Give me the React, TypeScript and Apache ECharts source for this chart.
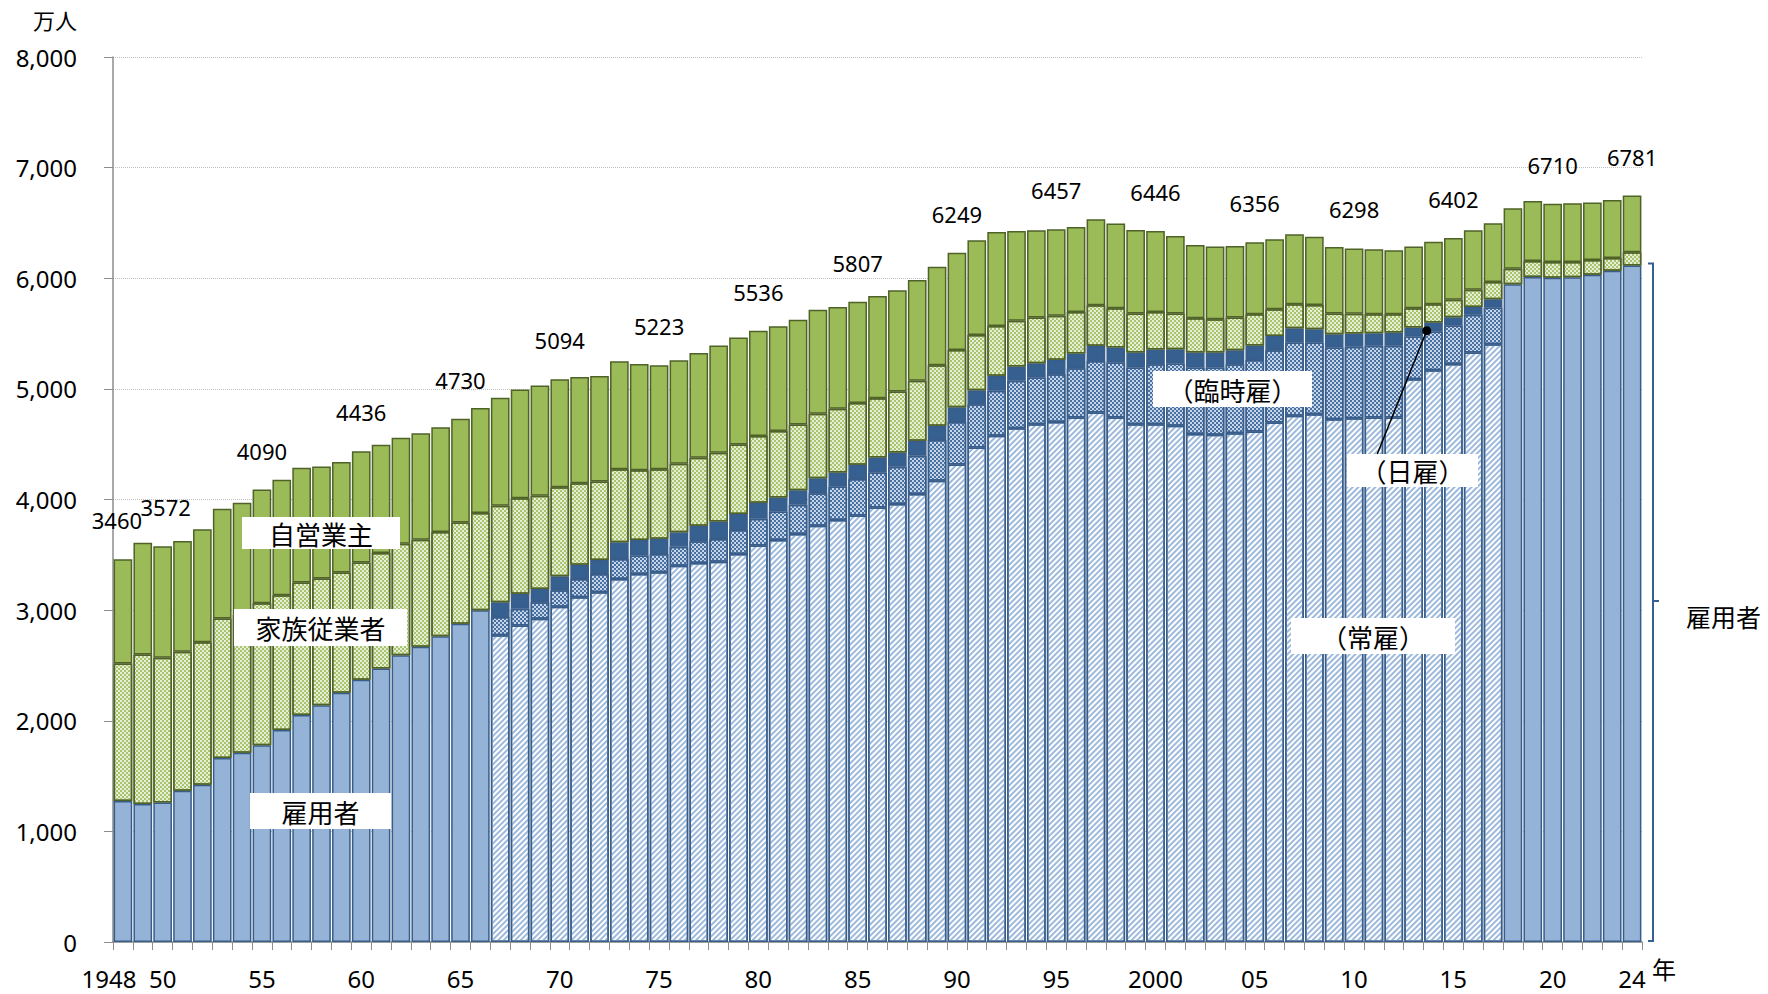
import React, { useEffect, useRef } from "react";
import * as echarts from "echarts";

// ---- categories ----
const years: string[] = Array.from({ length: 77 }, (_, i) => String(1948 + i));

const xTickLabels: Record<string, string> = {
  "1948": "1948", "1950": "50", "1955": "55", "1960": "60", "1965": "65",
  "1970": "70", "1975": "75", "1980": "80", "1985": "85", "1990": "90",
  "1995": "95", "2000": "2000", "2005": "05", "2010": "10", "2015": "15",
  "2020": "20", "2024": "24",
};

// ---- values (万人) ----
// 雇用者 (total, shown solid) 1948-1966
const employeesEarly = [
  1275, 1248, 1260, 1368, 1422, 1663, 1711, 1778, 1916, 2051,
  2141, 2253, 2370, 2472, 2593, 2668, 2764, 2876, 2999,
];
// 雇用者 2018-2024
const employeesLate = [5946, 6012, 6005, 6010, 6032, 6068, 6115];

// 常雇 1967-2017
const regular = [
  2772, 2862, 2922, 3030, 3117, 3162, 3282, 3327, 3342, 3402,
  3426, 3438, 3508, 3585, 3634, 3688, 3763, 3814, 3855, 3928,
  3959, 4049, 4169, 4316, 4470, 4576, 4645, 4681, 4700, 4741,
  4787, 4741, 4681, 4680, 4666, 4591, 4585, 4600, 4615, 4696,
  4756, 4771, 4726, 4735, 4741, 4741, 5088, 5169, 5225, 5329,
  5404,
];
// 臨時雇 1967-2017
const temporary = [
  165, 150, 150, 150, 165, 165, 180, 166, 166, 172,
  196, 205, 216, 240, 258, 264, 294, 303, 330, 317,
  337, 346, 368, 384, 392, 406, 428, 422, 432, 446,
  466, 497, 512, 542, 563, 602, 608, 623, 645, 654,
  663, 648, 648, 645, 648, 648, 385, 349, 349, 340,
  331,
];
// 日雇 1967-2017
const daily = [
  135, 135, 120, 126, 129, 126, 151, 141, 138, 129,
  141, 159, 144, 146, 126, 132, 135, 126, 128, 135,
  129, 136, 129, 135, 126, 136, 129, 129, 131, 133,
  136, 136, 136, 134, 130, 136, 136, 127, 133, 129,
  129, 120, 120, 120, 114, 120, 81, 82, 73, 72,
  75,
];
// 家族従業者 1948-2024
const family = [
  1243, 1351, 1309, 1255, 1288, 1261, 1249, 1284, 1218, 1198,
  1144, 1086, 1060, 1045, 1008, 969, 942, 915, 879, 871,
  865, 841, 805, 736, 709, 660, 630, 628, 621, 615,
  621, 630, 603, 601, 595, 583, 577, 559, 536, 551,
  542, 548, 517, 500, 451, 413, 413, 397, 376, 367,
  355, 352, 340, 322, 310, 301, 295, 282, 241, 217,
  220, 187, 180, 172, 166, 175, 165, 159, 154, 157,
  141, 145, 142, 136, 133, 115, 121,
];
// 自営業主 1948-2024
const selfEmployed = [
  941, 1011, 1008, 1002, 1020, 993, 1011, 1028, 1045, 1038,
  1014, 999, 1006, 977, 957, 963, 948, 939, 950, 976,
  982, 997, 977, 961, 955, 976, 961, 939, 934, 946,
  970, 967, 951, 946, 946, 940, 919, 916, 924, 916,
  912, 891, 878, 855, 850, 813, 789, 784, 768, 777,
  765, 756, 731, 701, 662, 656, 647, 650, 632, 632,
  617, 602, 590, 587, 578, 557, 566, 557, 539, 530,
  545, 542, 526, 532, 520, 524, 512,
];

// 就業者 total labels
const totalLabels: [string, string][] = [
  ["1948", "3460"], ["1950", "3572"], ["1955", "4090"], ["1960", "4436"],
  ["1965", "4730"], ["1970", "5094"], ["1975", "5223"], ["1980", "5536"],
  ["1985", "5807"], ["1990", "6249"], ["1995", "6457"], ["2000", "6446"],
  ["2005", "6356"], ["2010", "6298"], ["2015", "6402"], ["2020", "6710"],
  ["2024", "6781"],
];

const NUM_FONT = '"Noto Sans", "Noto Sans CJK JP", sans-serif';
const JP_FONT = '"Noto Sans CJK JP", "Noto Sans", sans-serif';

const BLUE_FILL = "#95B3D7";
const BLUE_EDGE = "#385D8A";
const DARK_BLUE = "#36608F";
const GREEN_FILL = "#9BBB59";
const GREEN_EDGE = "#4F6228";

const nulls = (n: number) => Array.from({ length: n }, () => null as number | null);

function labelBox(x: number, y: number, w: number, h: number, text: string, fs = 26) {
  return [
    { type: "rect", z: 100, shape: { x, y, width: w, height: h }, style: { fill: "#ffffff" } },
    {
      type: "text",
      z: 101,
      x: x + w / 2,
      y: y + h / 2,
      style: { text, fontSize: fs, fontFamily: JP_FONT, fill: "#000", align: "center", verticalAlign: "middle" },
    },
  ];
}

export default function App() {
  const ref = useRef<HTMLDivElement>(null);
  useEffect(() => {
    if (!ref.current) return;
    const chart = echarts.init(ref.current, undefined, { renderer: "svg" });

    const nEarly = employeesEarly.length; // 19
    const nMid = regular.length; // 51
    const nLate = employeesLate.length; // 7

    const employeesData = [...employeesEarly, ...nulls(nMid), ...employeesLate];
    const regularData = [...nulls(nEarly), ...regular, ...nulls(nLate)];
    const temporaryData = [...nulls(nEarly), ...temporary, ...nulls(nLate)];
    const dailyData = [...nulls(nEarly), ...daily, ...nulls(nLate)];
    const labelMap: Record<string, string> = {};
    totalLabels.forEach(([y, t]) => (labelMap[y] = t));

    // nudge the two crowded first labels apart slightly
    const labelNudge: Record<string, number[]> = { "1948": [-6, 0], "1950": [3, 0] };
    const selfData = selfEmployed.map((v, i) => {
      const nudge = labelNudge[years[i]];
      return nudge ? { value: v, label: { offset: nudge } } : v;
    });

    const blueBorder = { borderColor: BLUE_EDGE, borderWidth: 1.5 };
    const greenBorder = { borderColor: GREEN_EDGE, borderWidth: 1.5 };
    const common = { type: "bar", stack: "total", barCategoryGap: "6%", emphasis: { disabled: true } };

    chart.setOption({
      animation: false,
      grid: { left: 113, right: 126, top: 57, bottom: 52, containLabel: false },
      xAxis: {
        type: "category",
        data: years,
        axisLine: { lineStyle: { color: "#8C8C8C", width: 1.5 } },
        axisTick: { show: true, interval: 0, length: 8, lineStyle: { color: "#8C8C8C" } },
        axisLabel: {
          interval: 0,
          margin: 24,
          fontSize: 24,
          lineHeight: 24,
          fontFamily: NUM_FONT,
          color: "#000",
          formatter: (v: string) => {
            const t = xTickLabels[v];
            if (!t) return "";
            if (v === "1948") return "{s|" + t + "}";
            return t;
          },
          rich: { s: { fontSize: 24, lineHeight: 24, fontFamily: NUM_FONT, color: "#000", padding: [0, 28, 0, 0] } },
        },
      },
      yAxis: {
        type: "value",
        min: 0,
        max: 8000,
        interval: 1000,
        axisLine: { show: true, lineStyle: { color: "#8C8C8C", width: 1.5 } },
        axisTick: { show: true, length: 9, lineStyle: { color: "#8C8C8C" } },
        axisLabel: {
          margin: 36,
          fontSize: 24,
          fontFamily: NUM_FONT,
          color: "#000",
          formatter: (v: number) => v.toLocaleString("en-US"),
        },
        splitLine: { lineStyle: { color: "#BFBFBF", type: "dotted" } },
      },
      series: [
        { ...common, name: "雇用者", data: employeesData, itemStyle: { color: BLUE_FILL, ...blueBorder } },
        {
          ...common,
          name: "常雇",
          data: regularData,
          itemStyle: {
            color: "#FFFFFF",
            ...blueBorder,
            decal: {
              symbol: "rect",
              symbolSize: 1,
              dashArrayX: [1, 0],
              dashArrayY: [2, 2],
              rotation: -Math.PI / 4,
              color: "#9DB9DB",
              backgroundColor: "#FFFFFF",
            },
          },
        },
        {
          ...common,
          name: "臨時雇",
          data: temporaryData,
          itemStyle: {
            color: "#C5D5EA",
            ...blueBorder,
            decal: {
              symbol: "rect",
              symbolSize: 1,
              dashArrayX: [[2, 2], [0, 2, 2, 0]],
              dashArrayY: [2, 0],
              rotation: 0,
              color: "#4A70A0",
              backgroundColor: "#DCE6F2",
            },
          },
        },
        { ...common, name: "日雇", data: dailyData, itemStyle: { color: DARK_BLUE, ...blueBorder } },
        {
          ...common,
          name: "家族従業者",
          data: family,
          itemStyle: {
            color: "#E6EED5",
            ...greenBorder,
            decal: {
              symbol: "rect",
              symbolSize: 1,
              dashArrayX: [[2, 2], [0, 2, 2, 0]],
              dashArrayY: [2, 0],
              rotation: 0,
              color: "#A9C46E",
              backgroundColor: "#F4F8EA",
            },
          },
        },
        {
          ...common,
          name: "自営業主",
          data: selfData,
          itemStyle: { color: GREEN_FILL, ...greenBorder },
          label: {
            show: true,
            position: "top",
            distance: 28,
            fontSize: 22,
            fontFamily: NUM_FONT,
            color: "#000",
            formatter: (p: any) => labelMap[years[p.dataIndex]] || "",
          },
        },
      ],
      graphic: [
        { type: "text", z: 100, x: 33, y: 8, style: { text: "万人", fontSize: 22, fontFamily: JP_FONT, fill: "#000" } },
        { type: "text", z: 100, x: 1652, y: 956, style: { text: "年", fontSize: 24, fontFamily: JP_FONT, fill: "#000" } },
        ...labelBox(242, 517, 158, 32, "自営業主"),
        ...labelBox(234, 609, 173, 37, "家族従業者"),
        ...labelBox(250, 793, 141, 36, "雇用者"),
        ...labelBox(1153, 371, 159, 36, "（臨時雇）"),
        ...labelBox(1347, 454, 131, 33, "（日雇）"),
        ...labelBox(1291, 618, 164, 36, "（常雇）"),
        {
          type: "line",
          z: 102,
          shape: { x1: 1426.7, y1: 330.7, x2: 1377.3, y2: 454 },
          style: { stroke: "#000", lineWidth: 1.5 },
        },
        { type: "circle", z: 103, shape: { cx: 1426.7, cy: 330.7, r: 4.5 }, style: { fill: "#000" } },
        {
          type: "polyline",
          z: 100,
          shape: { points: [[1648, 263.5], [1653, 263.5], [1653, 941], [1648, 941]] },
          style: { stroke: DARK_BLUE, lineWidth: 2, fill: null },
        },
        {
          type: "line",
          z: 100,
          shape: { x1: 1653, y1: 601, x2: 1659, y2: 601 },
          style: { stroke: DARK_BLUE, lineWidth: 2 },
        },
        {
          type: "text",
          z: 100,
          x: 1686,
          y: 603,
          style: { text: "雇用者", fontSize: 25, fontFamily: JP_FONT, fill: "#000" },
        },
      ],
    });
    return () => chart.dispose();
  }, []);
  return (
    <div
      ref={ref}
      style={{ position: "fixed", left: 0, top: 0, width: 1768, height: 994, background: "#fff" }}
    />
  );
}
